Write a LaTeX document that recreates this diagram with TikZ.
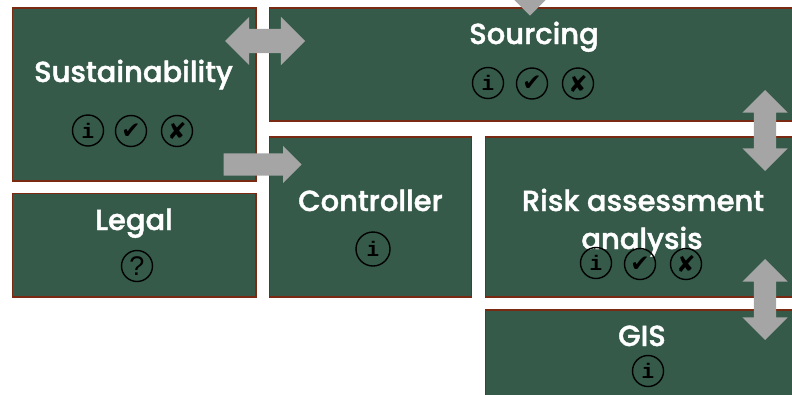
\documentclass[tikz,border=0pt]{standalone}
\usepackage{fontspec}
\usetikzlibrary{shapes.arrows}
\setmainfont{Poppins}
\newfontfamily\titlefam[FakeBold=1.4]{Poppins Medium}
\newfontfamily\monofam{Liberation Mono}
\newfontfamily\symfam{DejaVu Sans}
\newfontfamily\thinfam{Liberation Sans}
\definecolor{boxfill}{HTML}{355A4A}
\definecolor{boxline}{HTML}{7A2A12}
\definecolor{arrowgray}{HTML}{A5A5A5}
\tikzset{
  box/.style={draw=boxline,fill=boxfill,line width=1.4pt,rectangle,inner sep=0pt,outer sep=0pt},
  title/.style={text=white,anchor=base,align=center,inner sep=0pt,font=\titlefam\fontsize{29}{29}\selectfont},
  icon/.style={draw=black,circle,line width=1.4pt,minimum size=31pt,inner sep=0pt,text=black},
  infoicon/.style={icon,font=\monofam\bfseries\fontsize{21}{21}\selectfont},
  markicon/.style={icon,font=\symfam\fontsize{23}{23}\selectfont},
  askicon/.style={icon,font=\thinfam\fontsize{27}{27}\selectfont},
  dblarrow/.style={double arrow,fill=arrowgray,draw=none,inner sep=0pt,double arrow tip angle=90},
  onearrow/.style={single arrow,fill=arrowgray,draw=none,inner sep=0pt,single arrow tip angle=90},
}
\begin{document}
\begin{tikzpicture}[x=1pt,y=-1pt]
\useasboundingbox (0,0) rectangle (792,394);
\clip (0,0) rectangle (792,394);
% boxes
\node[box,minimum width=243.5pt,minimum height=173pt] (sust) at (134.25,94.5) {};
\node[box,minimum width=243.5pt,minimum height=103.5pt] (legal) at (134.25,245.25) {};
\node[box,minimum width=560pt,minimum height=113pt] (sourcing) at (549.5,64.5) {};
\node[box,minimum width=202pt,minimum height=160pt] (ctrl) at (370.5,217) {};
\node[box,minimum width=340pt,minimum height=160pt] (risk) at (655.5,217) {};
\node[box,minimum width=340pt,minimum height=120pt] (gis) at (655.5,370) {};
% titles
\node[title] (tsust) at (133.5,82) {Sustainability};
\node[title] (tlegal) at (134,230) {Legal};
\node[title] (tsrc) at (534,44) {Sourcing};
\node[title] (tctrl) at (370.5,211) {Controller};
\node[title] (trisk1) at (643,211) {Risk assessment};
\node[title] (trisk2) at (642,249) {analysis};
\node[title] (tgis) at (642,346) {GIS};
% icons
\node[infoicon] (s1) at (88,130.5) {i};
\node[markicon] (s2) at (131,131) {✔};
\node[markicon] (s3) at (177,131) {✘};
\node[askicon] (l1) at (137,266) {?};
\node[infoicon] (o1) at (488,83) {i};
\node[markicon] (o2) at (532,83.5) {✔};
\node[markicon] (o3) at (578,83.5) {✘};
\node[infoicon,minimum size=34pt] (c1) at (373,249) {i};
\node[infoicon] (r1) at (596,263) {i};
\node[markicon] (r2) at (640,264) {✔};
\node[markicon] (r3) at (686,264) {✘};
\node[infoicon] (g1) at (648,371) {i};
% arrows
\node[dblarrow,minimum height=80pt,minimum width=48pt,inner ysep=12pt,double arrow head extend=12pt] (a1) at (265,41) {};
\node[onearrow,minimum height=78pt,minimum width=37pt,inner ysep=11pt,single arrow head extend=7.5pt,anchor=tip] (a2) at (302,164.5) {};
\node[onearrow,minimum height=40pt,minimum width=34pt,inner ysep=10pt,single arrow head extend=7pt,shape border rotate=270,anchor=tip] (a3) at (530,16) {};
\node[dblarrow,minimum height=81pt,minimum width=45pt,inner xsep=11pt,double arrow head extend=11.5pt,shape border rotate=90] (a4) at (765,130.5) {};
\node[dblarrow,minimum height=81pt,minimum width=45pt,inner xsep=11pt,double arrow head extend=11.5pt,shape border rotate=90] (a5) at (765,299.5) {};
\end{tikzpicture}
\end{document}
